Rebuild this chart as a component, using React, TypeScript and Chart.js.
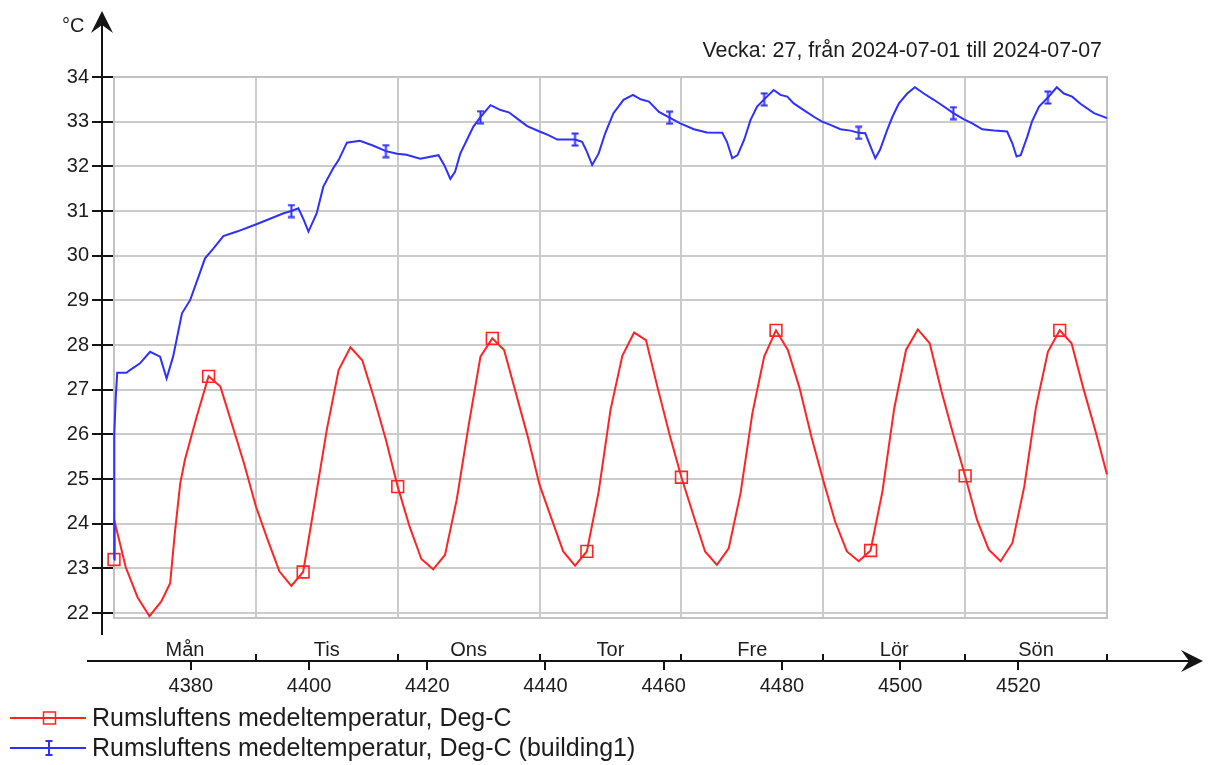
import React, { useEffect, useRef } from 'react';
import { Chart, registerables } from 'chart.js';

Chart.register(...registerables);

// ---------- data ----------
const seriesNames = [
  'Rumsluftens medeltemperatur, Deg-C',
  'Rumsluftens medeltemperatur, Deg-C (building1)',
];
const titleText = 'Vecka: 27, från 2024-07-01 till 2024-07-07';
const yUnit = '°C';

const dayLabels = ['Mån', 'Tis', 'Ons', 'Tor', 'Fre', 'Lör', 'Sön'];
const dayStartHours = [4367, 4391, 4415, 4439, 4463, 4487, 4511, 4535];
const xTickValues = [4380, 4400, 4420, 4440, 4460, 4480, 4500, 4520];
const yTickValues = [22, 23, 24, 25, 26, 27, 28, 29, 30, 31, 32, 33, 34];

const redHours = [
  4367, 4367.1, 4369, 4371, 4373, 4375, 4376.5, 4377.3, 4378.2, 4379,
  4381, 4383, 4385, 4387, 4389, 4391, 4393, 4395, 4397, 4399,
  4401, 4403, 4405, 4407, 4409, 4411, 4413, 4415, 4417, 4419,
  4421, 4423, 4425, 4427, 4429, 4431, 4433, 4435, 4437, 4439,
  4441, 4443, 4445, 4447, 4449, 4451, 4453, 4455, 4457, 4459,
  4461, 4463, 4465, 4467, 4469, 4471, 4473, 4475, 4477, 4479,
  4481, 4483, 4485, 4487, 4489, 4491, 4493, 4495, 4497, 4499,
  4501, 4503, 4505, 4507, 4509, 4511, 4513, 4515, 4517, 4519,
  4521, 4523, 4525, 4527, 4529, 4531, 4533, 4535,
];
const redTemps = [
  23.2, 24.05, 23.02, 22.35, 21.93, 22.26, 22.67, 23.8, 24.9, 25.43,
  26.4, 27.3, 27.07, 26.21, 25.35, 24.39, 23.64, 22.93, 22.61, 22.92,
  24.5, 26.1, 27.44, 27.95, 27.66, 26.81, 25.88, 24.83, 23.94, 23.21,
  22.98, 23.3, 24.55, 26.2, 27.74, 28.15, 27.89, 26.92, 25.95, 24.87,
  24.12, 23.38, 23.06, 23.38, 24.72, 26.55, 27.76, 28.28, 28.11, 27.03,
  25.99, 25.04, 24.2, 23.38, 23.08, 23.45, 24.68, 26.47, 27.74, 28.33,
  27.89, 27.03, 25.94, 24.97, 24.05, 23.38, 23.16, 23.4, 24.72, 26.58,
  27.89, 28.35, 28.04, 26.96, 25.99, 25.07, 24.09, 23.42, 23.16, 23.57,
  24.83, 26.62, 27.85, 28.33, 28.04, 27.03, 26.1, 25.1,
];
const redMarkerHours = [4367, 4383, 4399, 4415, 4431, 4447, 4463, 4479, 4495, 4511, 4527];

const blueHours = [
  4367, 4367.05, 4367.3, 4367.55, 4369.1, 4369.7, 4371.4, 4373.1, 4374.8, 4375.9,
  4377, 4378.5, 4379.9, 4381.3, 4382.4, 4383.8, 4385.5, 4387.8, 4391.2, 4395.7,
  4397, 4398.2, 4399.1, 4399.9, 4401.3, 4402.4, 4404.1, 4405, 4406.4, 4408.6,
  4410.9, 4413, 4414.9, 4416.5, 4418.8, 4421.9, 4422.9, 4423.9, 4424.7, 4425.6,
  4426.7, 4427.8, 4429, 4430.7, 4432.4, 4433.8, 4435.5, 4436.9, 4439, 4440.5,
  4442, 4443.6, 4445, 4446.2, 4447, 4447.9, 4449, 4450.1, 4451.5, 4453.2,
  4454.8, 4456.1, 4457.5, 4459.2, 4461, 4462.8, 4465.1, 4467.3, 4469.9, 4470.7,
  4471.6, 4472.5, 4473.6, 4474.7, 4475.8, 4477, 4478.6, 4479.75, 4480.9, 4482,
  4483.7, 4485.4, 4486.8, 4488.2, 4489.9, 4491.6, 4493, 4494.1, 4495, 4495.8,
  4496.6, 4497.8, 4498.7, 4499.8, 4501.2, 4502.5, 4504, 4505.7, 4507.4, 4509,
  4510.8, 4512.2, 4513.9, 4515.9, 4518.1, 4519, 4519.7, 4520.4, 4521.5, 4522.3,
  4523.5, 4525, 4526.5, 4527.7, 4529.1, 4530.5, 4532.8, 4535,
];
const blueTemps = [
  23.2, 26.0, 26.85, 27.38, 27.38, 27.44, 27.59, 27.85, 27.74, 27.25,
  27.74, 28.71, 29.01, 29.53, 29.94, 30.16, 30.44, 30.54, 30.71, 30.95,
  31.0, 31.06, 30.8, 30.54, 30.95, 31.54, 31.96, 32.14, 32.53, 32.57,
  32.46, 32.34, 32.28, 32.26, 32.17, 32.25, 32.02, 31.72, 31.88, 32.29,
  32.59, 32.89, 33.1, 33.37, 33.26, 33.21, 33.04, 32.9, 32.78, 32.7,
  32.6, 32.6, 32.6, 32.55, 32.33, 32.03, 32.29, 32.74, 33.19, 33.49,
  33.6, 33.5, 33.45, 33.22, 33.09, 32.96, 32.83, 32.76, 32.75, 32.55,
  32.18, 32.25, 32.59, 33.04, 33.34, 33.5, 33.71, 33.6, 33.56, 33.41,
  33.26, 33.11, 33.0, 32.93, 32.83, 32.8, 32.75, 32.74, 32.44, 32.18,
  32.37, 32.81, 33.11, 33.41, 33.63, 33.77, 33.63, 33.49, 33.34, 33.19,
  33.05, 32.96, 32.83, 32.8, 32.78, 32.51, 32.22, 32.25, 32.66, 33.0,
  33.34, 33.54, 33.77, 33.63, 33.56, 33.4, 33.19, 33.08,
];
const blueMarkerHours = [4397, 4413, 4429, 4445, 4461, 4477, 4493, 4509, 4525];

// ---------- styles ----------
const FONT = "'Liberation Sans', Arial, Helvetica, sans-serif";
const TEXT = '#1c1c1c';
const AXIS = '#141414';
const GRID = '#cbcbcb';
const RED = '#ff2424';
const BLUE = '#2f2fff';

function makeIBeam(color: string): HTMLCanvasElement {
  const c = document.createElement('canvas');
  c.width = 9;
  c.height = 15;
  const g = c.getContext('2d')!;
  g.strokeStyle = color;
  g.lineWidth = 2;
  g.beginPath();
  g.moveTo(4.5, 1.5);
  g.lineTo(4.5, 13.5);
  g.moveTo(1, 1.5);
  g.lineTo(8, 1.5);
  g.moveTo(1, 13.5);
  g.lineTo(8, 13.5);
  g.stroke();
  return c;
}

const overlayPlugin = {
  id: 'overlay',
  beforeDatasetsDraw(chart: any) {
    const { ctx, chartArea: a } = chart;
    ctx.save();
    ctx.strokeStyle = '#c2c2c2';
    ctx.lineWidth = 2;
    ctx.strokeRect(a.left, a.top, a.right - a.left, a.bottom - a.top);
    ctx.restore();
  },
  afterDraw(chart: any) {
    const { ctx } = chart;
    const xs = chart.scales.x;
    ctx.save();
    ctx.strokeStyle = AXIS;
    ctx.fillStyle = AXIS;
    ctx.lineWidth = 2;

    // y axis with arrow
    ctx.beginPath();
    ctx.moveTo(102, 18);
    ctx.lineTo(102, 635);
    ctx.stroke();
    ctx.beginPath();
    ctx.moveTo(102, 11);
    ctx.lineTo(113, 33);
    ctx.lineTo(102, 25);
    ctx.lineTo(91, 33);
    ctx.closePath();
    ctx.fill();

    // x axis with arrow
    const ay = 661;
    ctx.beginPath();
    ctx.moveTo(87, ay);
    ctx.lineTo(1196, ay);
    ctx.stroke();
    ctx.beginPath();
    ctx.moveTo(1203, ay);
    ctx.lineTo(1181, ay - 11);
    ctx.lineTo(1189, ay);
    ctx.lineTo(1181, ay + 11);
    ctx.closePath();
    ctx.fill();

    // day separators (above axis)
    ctx.beginPath();
    dayStartHours.slice(1).forEach((h) => {
      const px = Math.round(xs.getPixelForValue(h));
      ctx.moveTo(px, ay - 7);
      ctx.lineTo(px, ay);
    });
    // value ticks (below axis)
    xTickValues.forEach((v) => {
      const px = Math.round(xs.getPixelForValue(v));
      ctx.moveTo(px, ay);
      ctx.lineTo(px, ay + 9);
    });
    ctx.stroke();

    ctx.fillStyle = TEXT;
    ctx.textBaseline = 'middle';
    ctx.textAlign = 'center';
    ctx.font = `20px ${FONT}`;
    dayLabels.forEach((lab, i) => {
      const px = xs.getPixelForValue(dayStartHours[i] + 12);
      ctx.fillText(lab, px, 650);
    });
    xTickValues.forEach((v) => {
      ctx.fillText(String(v), xs.getPixelForValue(v), 686);
    });

    // unit
    ctx.textAlign = 'left';
    ctx.fillText(yUnit, 62, 26);

    // title
    ctx.textAlign = 'right';
    ctx.font = `21.4px ${FONT}`;
    ctx.fillText(titleText, 1102, 51);

    // legend
    const legendRows = [
      { y: 718, color: RED, kind: 'square' },
      { y: 748, color: BLUE, kind: 'ibeam' },
    ];
    legendRows.forEach((row, i) => {
      ctx.strokeStyle = row.color;
      ctx.lineWidth = 2;
      ctx.beginPath();
      ctx.moveTo(10, row.y);
      ctx.lineTo(86, row.y);
      ctx.stroke();
      if (row.kind === 'square') {
        ctx.lineWidth = 1.5;
        ctx.strokeRect(43.5, row.y - 6, 12, 12);
      } else {
        ctx.lineWidth = 2;
        ctx.beginPath();
        ctx.moveTo(49, row.y - 7);
        ctx.lineTo(49, row.y + 7);
        ctx.moveTo(45.5, row.y - 7);
        ctx.lineTo(52.5, row.y - 7);
        ctx.moveTo(45.5, row.y + 7);
        ctx.lineTo(52.5, row.y + 7);
        ctx.stroke();
      }
      ctx.fillStyle = TEXT;
      ctx.textAlign = 'left';
      ctx.font = `25px ${FONT}`;
      ctx.fillText(seriesNames[i], 92, row.y + 1);
    });
    ctx.restore();
  },
};

export default function App() {
  const ref = useRef<HTMLCanvasElement | null>(null);

  useEffect(() => {
    if (!ref.current) return;
    const ibeam = makeIBeam(BLUE);
    const redData = redHours.map((h, i) => ({ x: h, y: redTemps[i] }));
    const blueData = blueHours.map((h, i) => ({ x: h, y: blueTemps[i] }));

    const chart = new Chart(ref.current, {
      type: 'line',
      data: {
        datasets: [
          {
            label: seriesNames[1],
            data: blueData,
            borderColor: BLUE,
            borderWidth: 2,
            tension: 0,
            clip: false as any,
            pointStyle: ibeam as any,
            pointRadius: (c: any) => (c.raw && blueMarkerHours.includes(c.raw.x) ? 5 : 0),
            pointHoverRadius: 0,
          },
          {
            label: seriesNames[0],
            data: redData,
            borderColor: RED,
            borderWidth: 2,
            tension: 0,
            clip: false as any,
            pointStyle: 'rect',
            pointBackgroundColor: 'rgba(0,0,0,0)',
            pointBorderColor: RED,
            pointBorderWidth: 1.6,
            pointRadius: (c: any) => (c.raw && redMarkerHours.includes(c.raw.x) ? 8.3 : 0),
            pointHoverRadius: 0,
          },
        ],
      },
      options: {
        responsive: false,
        animation: false,
        devicePixelRatio: 1,
        events: [],
        layout: { padding: { left: 0, top: 77, right: 104, bottom: 147 } },
        plugins: {
          legend: { display: false },
          tooltip: { enabled: false },
          title: { display: false },
        },
        scales: {
          x: {
            type: 'linear',
            min: dayStartHours[0],
            max: dayStartHours[dayStartHours.length - 1],
            afterBuildTicks: (s: any) => {
              s.ticks = dayStartHours.map((v) => ({ value: v }));
            },
            afterFit: (s: any) => {
              s.height = 0;
            },
            ticks: { display: false },
            grid: { color: GRID, lineWidth: 2, drawTicks: false },
            border: { display: false },
          },
          y: {
            type: 'linear',
            min: 21.89,
            max: 34,
            afterBuildTicks: (s: any) => {
              s.ticks = yTickValues.map((v) => ({ value: v }));
            },
            afterFit: (s: any) => {
              s.width = 114;
            },
            ticks: {
              color: TEXT,
              font: { family: FONT, size: 20 },
              padding: 3,
              callback: (v: any) => String(v),
            },
            grid: {
              color: GRID,
              lineWidth: 2,
              drawTicks: true,
              tickLength: 22,
              tickColor: AXIS,
              tickWidth: 2,
            },
            border: { display: false },
          },
        },
      },
      plugins: [overlayPlugin],
    } as any);

    return () => chart.destroy();
  }, []);

  return (
    <div style={{ position: 'absolute', left: 0, top: 0, width: 1211, height: 765, background: '#fff' }}>
      <canvas ref={ref} width={1211} height={765} style={{ display: 'block', width: 1211, height: 765 }} />
    </div>
  );
}
